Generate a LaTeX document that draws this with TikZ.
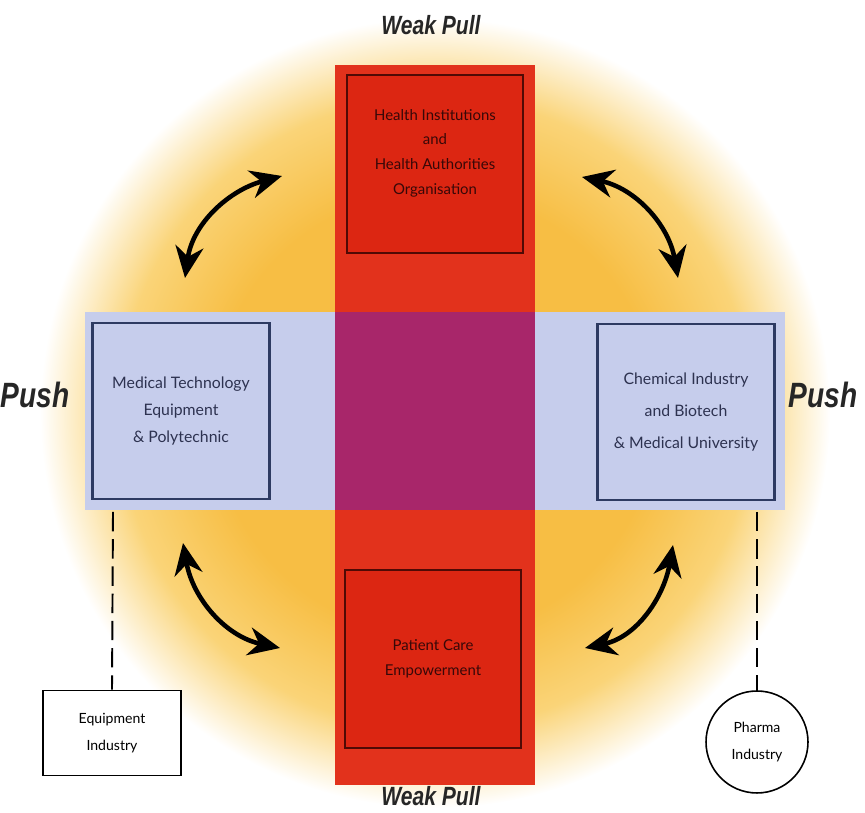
\documentclass[tikz,border=0pt]{standalone}
\usepackage{fontspec}
\setmainfont{Lato}
\newfontfamily\pushfont[FakeStretch=0.8]{Liberation Sans}
\usetikzlibrary{arrows.meta}

\definecolor{cGlowIn}{RGB}{247,190,68}
\definecolor{cGlowMid}{RGB}{250,212,120}
\definecolor{cRedBar}{RGB}{226,50,28}
\definecolor{cRedBox}{RGB}{220,38,18}
\definecolor{cRedLine}{RGB}{80,10,5}
\definecolor{cRedText}{RGB}{55,8,8}
\definecolor{cBlueBar}{RGB}{198,205,236}
\definecolor{cBlueLine}{RGB}{45,58,98}
\definecolor{cBlueText}{RGB}{45,50,80}
\definecolor{cMix}{RGB}{168,38,106}

\pgfdeclareradialshading{glow}{\pgfpoint{0bp}{0bp}}{%
  color(0bp)=(cGlowIn); color(14bp)=(cGlowIn); color(20bp)=(cGlowMid);
  color(25bp)=(white); color(50bp)=(white)}

\begin{document}
\begin{tikzpicture}[
    % 1 единица = 1 пиксель исходной картинки
    x=0.02cm, y=0.02cm,
    % Стили блоков
    box/.style={draw, line width=1.6pt, align=center},
    redblock/.style={box, draw=cRedLine, fill=cRedBox, text=cRedText,
      minimum width=3.52cm, minimum height=3.56cm},
    blueblock/.style={box, draw=cBlueLine, fill=cBlueBar, text=cBlueText,
      minimum width=3.54cm, minimum height=3.52cm},
    % Подписи Push / Weak Pull
    force/.style={text=black!85},
    % Двусторонние стрелки
    twoway/.style={line width=2.6pt,
      {Stealth[length=18pt,width=16pt]}-{Stealth[length=18pt,width=16pt]}},
    link/.style={line width=1.1pt, dash pattern=on 11pt off 4.5pt},
    outside/.style={draw, line width=0.9pt, fill=white, align=center,
      font=\fontsize{8}{15}\selectfont}
]
    \useasboundingbox (0,0) rectangle (865,813);

    % Фон
    \shade[shading=glow] (435,400) circle (7.9cm);

    % Полосы
    \fill[cRedBar] (335,28) rectangle (535,748);
    \fill[cBlueBar] (85,303) rectangle (785,501);
    \fill[cMix] (335,303) rectangle (535,501);

    % Красные блоки
    \node[redblock, font=\fontsize{8.5}{14}\selectfont, text depth=14pt] (health) at (435,649)
      {Health Institutions\\and\\Health Authorities\\Organisation};
    \node[redblock, font=\fontsize{8.5}{14}\selectfont] (patient) at (433,154)
      {Patient Care\\Empowerment};

    % Синие блоки
    \node[blueblock, font=\fontsize{9}{15.5}\selectfont] (medtech) at (181,402)
      {Medical Technology\\Equipment\\\& Polytechnic};
    \node[blueblock, font=\fontsize{9}{18}\selectfont] (chem) at (686,401)
      {Chemical Industry\\and Biotech\\\& Medical University};

    % Подписи
    \node[force, font=\pushfont\bfseries\itshape\fontsize{20}{20}\selectfont] (pushl) at (35,418) {Push};
    \node[force, font=\pushfont\bfseries\itshape\fontsize{20}{20}\selectfont] (pushr) at (823,418) {Push};
    \node[force, font=\pushfont\bfseries\itshape\fontsize{15}{15}\selectfont] (pullt) at (431,788) {Weak Pull};
    \node[force, font=\pushfont\bfseries\itshape\fontsize{15}{15}\selectfont] (pullb) at (431,17) {Weak Pull};

    % Стрелки
    \coordinate (tlA) at (185,535);
    \coordinate (tlB) at (282,637);
    \coordinate (trA) at (582,636);
    \coordinate (trB) at (678,535);
    \coordinate (blA) at (183,270);
    \coordinate (blB) at (280,165);
    \coordinate (brA) at (585,165);
    \coordinate (brB) at (673,268);
    \draw[twoway] (tlA) to[out=82, in=195] (tlB);
    \draw[twoway] (trA) to[out=-12, in=100] (trB);
    \draw[twoway] (blA) to[out=-80, in=168] (blB);
    \draw[twoway] (brA) to[out=12, in=-100] (brB);

    % Внешние участники
    \node[outside, minimum width=2.76cm, minimum height=1.7cm] (equip) at (112,80)
      {Equipment\\Industry};
    \node[outside, circle, minimum size=2.04cm] (pharma) at (757,71)
      {Pharma\\Industry};
    \coordinate (equiptop) at (113,301);
    \coordinate (pharmatop) at (757,301);
    \draw[link] (equiptop) -- (equip.north);
    \draw[link] (pharmatop) -- (pharma.north);

\end{tikzpicture}
\end{document}
